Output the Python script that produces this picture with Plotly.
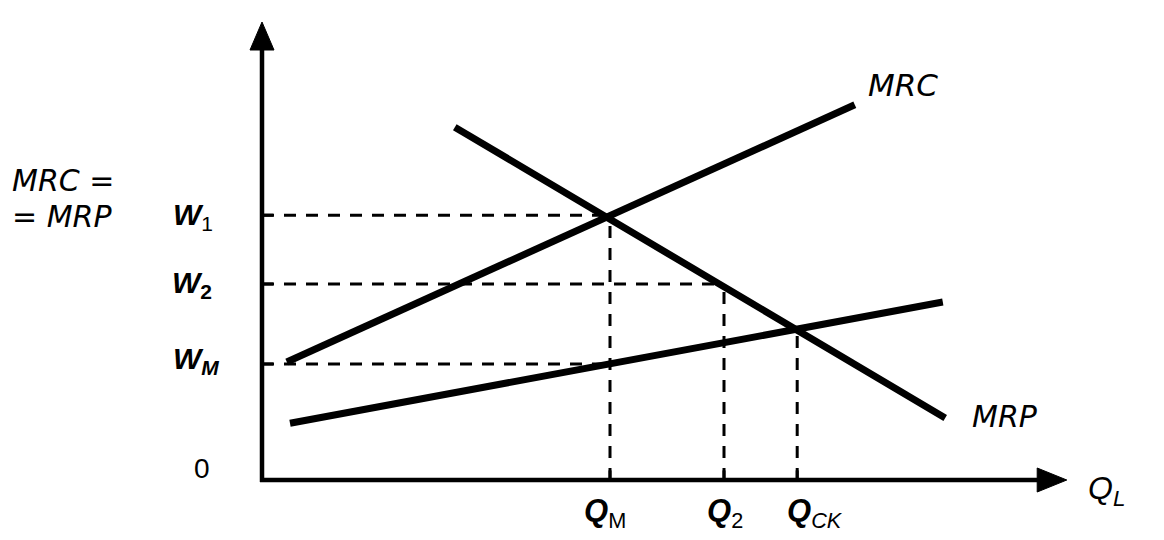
import plotly.graph_objects as go

# ---- data (economic units) ----
mrc_q = [3.1, 74.1]
mrc_w = [14.75, 46.9]
mrp_q = [24.1, 85.4]
mrp_w = [44.1, 7.75]
sl_q = [3.5, 85.1]
sl_w = [7.1, 22.25]

q_levels = [43.5, 57.75, 66.9]
q_labels = ["<b><i>Q</i></b><sub>M</sub>", "<b><i>Q</i></b><sub>2</sub>", "<b><i>Q</i></b><sub><i>CK</i></sub>"]
q_tops = [33.1, 24.5, 18.8]

w_levels = [33.1, 24.5, 14.5]
w_labels = ["<b><i>W</i></b><sub>1</sub>", "<b><i>W</i></b><sub><b>2</b></sub>", "<b><i>W</i></b><sub><b><i>M</i></b></sub>"]
w_ends = [43.5, 57.75, 43.5]

# page body has an 8px margin; ranges are chosen so the figure covers the window
X_RANGE = [-31.75, 112.75]
Y_RANGE = [-7.5, 59]
X_AXIS_END = 100.6
Y_AXIS_END = 57.25

fig = go.Figure()

DASH = "12px,10px"
for w, xe in zip(w_levels, w_ends):
    fig.add_trace(go.Scatter(x=[0, xe], y=[w, w], mode="lines",
                             line=dict(color="black", width=3, dash=DASH),
                             hoverinfo="skip", showlegend=False))
for q, yt in zip(q_levels, q_tops):
    fig.add_trace(go.Scatter(x=[q, q], y=[0, yt], mode="lines",
                             line=dict(color="black", width=3, dash=DASH),
                             hoverinfo="skip", showlegend=False))

for xs, ys in [(mrc_q, mrc_w), (mrp_q, mrp_w), (sl_q, sl_w)]:
    fig.add_trace(go.Scatter(x=xs, y=ys, mode="lines",
                             line=dict(color="black", width=7),
                             hoverinfo="skip", showlegend=False))

# axes with arrowheads
shapes = [
    dict(type="line", x0=0, y0=-0.25, x1=0, y1=Y_AXIS_END - 2.5, line=dict(color="black", width=4.5), layer="above"),
    dict(type="line", x0=-0.25, y0=0, x1=X_AXIS_END - 3, y1=0, line=dict(color="black", width=4.5), layer="above"),
    dict(type="path", path=f"M -1.5,{Y_AXIS_END-3.5} L 1.5,{Y_AXIS_END-3.5} L 0,{Y_AXIS_END} Z",
         fillcolor="black", line=dict(color="black", width=1), layer="above"),
    dict(type="path", path=f"M {X_AXIS_END-3.7},-1.5 L {X_AXIS_END-3.7},1.5 L {X_AXIS_END},0 Z",
         fillcolor="black", line=dict(color="black", width=1), layer="above"),
]
for w in w_levels:
    shapes.append(dict(type="line", x0=0, y0=w, x1=1.4, y1=w, line=dict(color="black", width=3)))
for q in q_levels:
    shapes.append(dict(type="line", x0=q, y0=0, x1=q, y1=1.2, line=dict(color="black", width=3)))

FONT = "Liberation Sans, Arial, sans-serif"
WIDE = "DejaVu Sans, Liberation Sans, sans-serif"
ann = []
ann.append(dict(x=-31.5, y=37.4, text="<i>MRC =</i>", showarrow=False, xanchor="left",
                font=dict(size=30, family=WIDE, color="black")))
ann.append(dict(x=-31.5, y=33.0, text="<i>= MRP</i>", showarrow=False, xanchor="left",
                font=dict(size=30, family=WIDE, color="black")))
w_x = [-8.6, -8.8, -8.2]
w_y = [32.9, 24.4, 14.9]
for lab, xx, yy in zip(w_labels, w_x, w_y):
    ann.append(dict(x=xx, y=yy, text=lab, showarrow=False, font=dict(size=30, family=FONT, color="black")))
ann.append(dict(x=-7.5, y=1.4, text="0", showarrow=False, font=dict(size=28, family=FONT, color="black")))
q_x = [42.9, 57.9, 69.1]
for lab, xx in zip(q_labels, q_x):
    ann.append(dict(x=xx, y=-4.1, text=lab, showarrow=False, font=dict(size=31, family=FONT, color="black")))
ann.append(dict(x=105.6, y=-1.3, text="<i>Q</i><sub><i>L</i></sub>", showarrow=False,
                font=dict(size=32, family=FONT, color="black")))
ann.append(dict(x=80.1, y=49.4, text="<i>MRC</i>", showarrow=False, font=dict(size=31, family=WIDE, color="black")))
ann.append(dict(x=92.9, y=7.9, text="<i>MRP</i>", showarrow=False, font=dict(size=30, family=WIDE, color="black")))

fig.update_layout(
    width=1156, height=532,
    margin=dict(l=0, r=0, t=0, b=0, pad=0),
    plot_bgcolor="white", paper_bgcolor="white",
    xaxis=dict(range=X_RANGE, visible=False, fixedrange=True),
    yaxis=dict(range=Y_RANGE, visible=False, fixedrange=True),
    shapes=shapes, annotations=ann, showlegend=False,
)

fig.write_html("out.html")
